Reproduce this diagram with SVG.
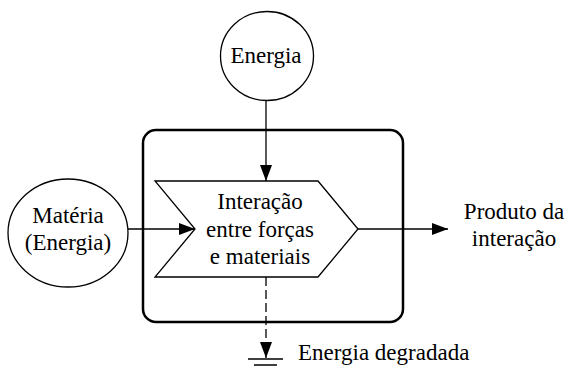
<svg xmlns="http://www.w3.org/2000/svg" width="566" height="370" viewBox="0 0 566 370">
<defs>
<style>
text{font-family:'Liberation Serif','Times New Roman',serif;font-size:23px;fill:#000;text-anchor:middle}
.shape{fill:#fff;stroke:#000;stroke-width:1.3}
.conn{fill:none;stroke:#000;stroke-width:1.3}
</style>
<marker id="arr" viewBox="0 0 16 12" refX="16" refY="6" markerWidth="16" markerHeight="12" markerUnits="userSpaceOnUse" orient="auto">
<path d="M0,0 L16,6 L0,12 Z" fill="#000"/>
</marker>
</defs>
<rect width="566" height="370" fill="#fff"/>
<g id="container">
<rect x="143" y="130" width="260" height="192" rx="13" ry="13" fill="none" stroke="#000" stroke-width="2.5"/>
</g>
<g id="energia">
<ellipse class="shape" cx="267" cy="56" rx="46.5" ry="44.5"/>
<text x="266" y="63">Energia</text>
</g>
<g id="materia">
<ellipse class="shape" cx="68" cy="233" rx="60" ry="54"/>
<text x="68" y="223">Matéria</text>
<text x="68" y="250">(Energia)</text>
</g>
<g id="interacao">
<polygon class="shape" points="155,181 318,181 358,229 318,277 155,277 195,229"/>
<text x="260" y="209">Interação</text>
<text x="260" y="237">entre forças</text>
<text x="260" y="264">e materiais</text>
</g>
<g id="produto">
<text x="514" y="219">Produto da</text>
<text x="514" y="246">interação</text>
</g>
<g id="degradada">
<line x1="248" y1="359" x2="283" y2="359" stroke="#000" stroke-width="1.5"/>
<line x1="254" y1="365" x2="277" y2="365" stroke="#000" stroke-width="1.5"/>
<text x="298" y="360" style="text-anchor:start">Energia degradada</text>
</g>
<g id="connectors">
<line class="conn" x1="266" y1="101" x2="266" y2="181" marker-end="url(#arr)"/>
<line class="conn" x1="128" y1="229" x2="195" y2="229" marker-end="url(#arr)"/>
<line class="conn" x1="358" y1="229" x2="448" y2="229" marker-end="url(#arr)"/>
<line class="conn" x1="266" y1="277" x2="266" y2="358" stroke-dasharray="9,4" marker-end="url(#arr)"/>
</g>
</svg>
